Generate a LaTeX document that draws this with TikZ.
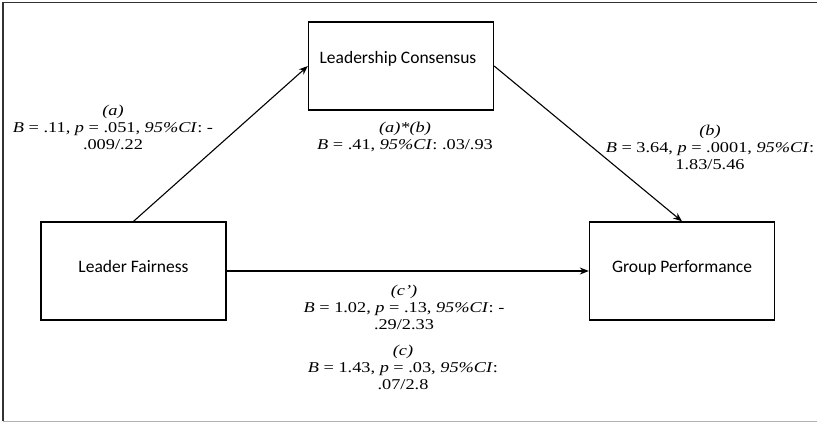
\documentclass[tikz,border=0pt]{standalone}
\usepackage{fontspec}
\setmainfont{Liberation Serif}[FakeStretch=1.22]
\newfontfamily\boxfont{Carlito}
\usetikzlibrary{positioning,arrows.meta}

\begin{document}
\begin{tikzpicture}[x=1pt,y=-1pt,
	box/.style={draw,line width=1.3pt,minimum width=185pt,minimum height=98pt,inner sep=0pt},
	boxtext/.style={font=\boxfont\fontsize{17.5}{20}\selectfont},
	stat/.style={align=center,inner sep=0pt,font=\fontsize{15}{17}\selectfont},
	path/.style={line width=1.1pt,-{Stealth[length=9pt,width=7pt]}}]

\useasboundingbox (0,0) rectangle (817,424);

% frame
\draw[line width=1.2pt,black!80] (3,421) -- (3,2.5) -- (817,2.5);
\draw[black!30] (3,421) -- (817,421);

% boxes
\node[box,minimum height=88pt](lc) at (401,66){};
\node[box](lf) at (133.5,271){};
\node[box](gp) at (682,271){};
\node[boxtext](lc-t) at (398,59){Leadership Consensus};
\node[boxtext](lf-t) at (133.5,266){Leader Fairness};
\node[boxtext](gp-t) at (682,268){Group Performance};

% paths
\draw[path](lf.north)--(lc.west);
\draw[path](lc.east)--(gp.north);
\draw[path,line width=2.6pt](lf.east)--(gp.west);

% coefficients
\node[stat](a) at (113,127){\textit{(a)}\\\textit{B} = .11, \textit{p} = .051, \textit{95\%CI}: -\\.009/.22};
\node[stat](ab) at (405,137){\textit{(a)*(b)}\\\textit{B} = .41, \textit{95\%CI}: .03/.93};
\node[stat](b) at (710,147){\textit{(b)}\\\textit{B} = 3.64, \textit{p} = .0001, \textit{95\%CI}:\\1.83/5.46};
\node[stat](c1) at (404,307){\textit{(c’)}\\\textit{B} = 1.02, \textit{p} = .13, \textit{95\%CI}: -\\.29/2.33};
\node[stat](c) at (403,367){\textit{(c)}\\\textit{B} = 1.43, \textit{p} = .03, \textit{95\%CI}:\\.07/2.8};
\end{tikzpicture}
\end{document}
